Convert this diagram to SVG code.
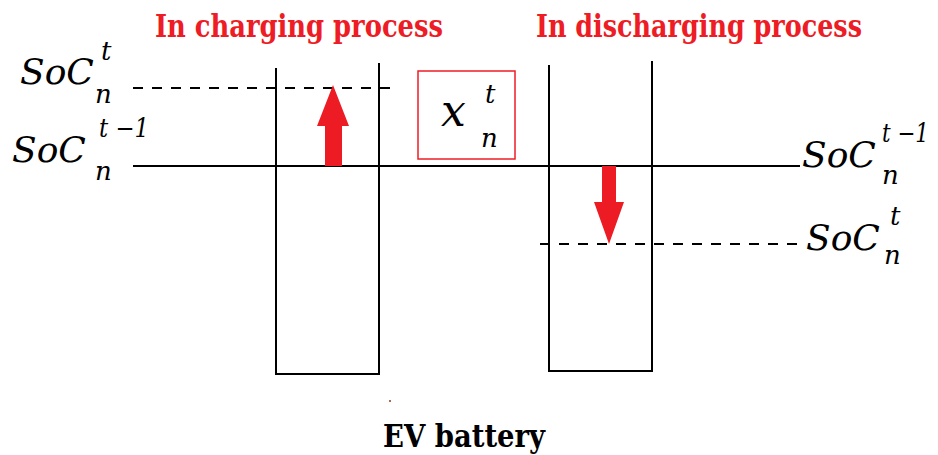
<svg xmlns="http://www.w3.org/2000/svg" width="938" height="455" viewBox="0 0 938 455">
<style>
.ln{stroke:#000;stroke-width:2;fill:none}
.dash{stroke:#000;stroke-width:1.8;stroke-dasharray:10,9;fill:none}
.it{font-family:'DejaVu Serif',serif;font-style:italic;fill:#000}
.big{font-size:36px}
.sm{font-size:26px}
.title{font-family:'DejaVu Serif Condensed','DejaVu Serif',serif;font-weight:bold;fill:#ee1c24;font-size:32px}
.lab{font-family:'DejaVu Serif Condensed','DejaVu Serif',serif;font-weight:bold;fill:#000;font-size:31px}
.arr{fill:#ed1c24}
</style>
<rect width="938" height="455" fill="#fff"/>
<g id="connectors">
<line class="ln" x1="133" y1="166" x2="800" y2="166"/>
<line class="dash" x1="133" y1="88" x2="390" y2="88"/>
<line class="dash" x1="540" y1="244" x2="800" y2="244"/>
</g>
<g id="battery-charging">
<path class="ln" d="M276,68 V374 H379 V63"/>
</g>
<g id="battery-discharging">
<path class="ln" d="M549,65 V371 H652 V61"/>
</g>
<g id="arrow-up">
<polygon class="arr" points="325,166 342,166 342,126 349,126 333,85 317,126 325,126"/>
</g>
<g id="arrow-down">
<polygon class="arr" points="602,166 616,166 616,202 624,202 609,244 594,202 602,202"/>
</g>
<g id="xbox">
<rect x="418" y="71" width="97" height="88" fill="none" stroke="#ee1c24" stroke-width="1.5"/>
<text class="it" font-size="44" x="441" y="126">x</text>
<text class="it sm" x="485" y="103">t</text>
<text class="it sm" x="481" y="147">n</text>
</g>
<g id="labels-left">
<text class="it big" x="20" y="84">SoC</text>
<text class="it sm" x="101" y="60">t</text>
<text class="it sm" x="95" y="103">n</text>
<text class="it big" x="12" y="162">SoC</text>
<text class="it sm" x="99" y="137" textLength="50" lengthAdjust="spacingAndGlyphs">t −1</text>
<text class="it sm" x="95" y="180">n</text>
</g>
<g id="labels-right">
<text class="it big" x="802" y="167">SoC</text>
<text class="it sm" x="882" y="142" textLength="47" lengthAdjust="spacingAndGlyphs">t −1</text>
<text class="it sm" x="882" y="184">n</text>
<text class="it big" x="806" y="250">SoC</text>
<text class="it sm" x="890" y="225">t</text>
<text class="it sm" x="884" y="264">n</text>
</g>
<g id="titles">
<text class="title" x="155" y="37" textLength="288" lengthAdjust="spacingAndGlyphs">In charging process</text>
<text class="title" x="536" y="37" textLength="326" lengthAdjust="spacingAndGlyphs">In discharging process</text>
</g>
<g id="ev-label">
<text class="lab" x="383" y="447" textLength="162" lengthAdjust="spacingAndGlyphs">EV battery</text>
<circle cx="390" cy="401" r="1" fill="#8b3a1a"/>
</g>
</svg>
